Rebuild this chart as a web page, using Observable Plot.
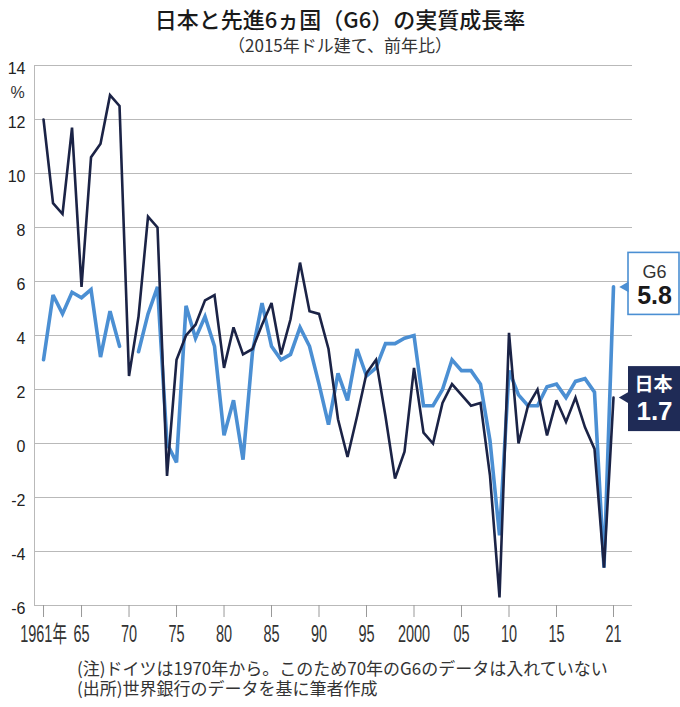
<!DOCTYPE html>
<html><head><meta charset="utf-8">
<script src="https://cdn.jsdelivr.net/npm/d3@7"></script>
<script src="https://cdn.jsdelivr.net/npm/@observablehq/plot@0.6"></script>
<style>
body{margin:0;background:#fff;}
#wrap{position:relative;width:680px;height:707px;font-family:"Noto Sans CJK JP",sans-serif;color:#222;overflow:hidden;}
.title{position:absolute;left:0;width:680px;text-align:center;top:6px;font-size:22px;line-height:24px;font-weight:500;color:#1a1a1a;}
.sub{position:absolute;left:0;width:680px;text-align:center;top:35px;font-size:17px;line-height:19px;color:#333;}
#chart{position:absolute;left:0;top:0;}
.note{position:absolute;left:77px;top:658px;font-size:17px;line-height:20px;color:#333;white-space:pre;}
</style></head>
<body><div id="wrap">
<div id="chart"></div>
<div class="title">日本と先進6ヵ国（G6）の実質成長率</div>
<div class="sub">（2015年ドル建て、前年比）</div>
<div class="note" id="note"></div>
</div>
<script>
const startYear = 1961;
const japan = [
  12.0, 8.9, 8.5, 11.7, 5.8, 10.6, 11.1, 12.9, 12.5, 2.5,   // 1961-1970
  4.7, 8.4, 8.0, -1.2, 3.1, 4.0, 4.4, 5.3, 5.5, 2.8,         // 1971-1980
  4.3, 3.3, 3.5, 4.4, 5.2, 3.3, 4.6, 6.7, 4.9, 4.8,          // 1981-1990
  3.5, 0.9, -0.5, 1.0, 2.6, 3.1, 1.0, -1.3, -0.3, 2.8,       // 1991-2000
  0.4, 0.0, 1.5, 2.2, 1.8, 1.4, 1.5, -1.2, -5.7, 4.1,        // 2001-2010
  0.0, 1.4, 2.0, 0.3, 1.6, 0.8, 1.7, 0.6, -0.2, -4.6,        // 2011-2020
  1.7                                                        // 2021
];
const g6 = [
  3.1, 5.5, 4.8, 5.6, 5.4, 5.7, 3.2, 4.9, 3.6, null,         // 1961-1970
  3.4, 4.8, 5.8, 0.0, -0.7, 5.1, 3.9, 4.7, 3.6, 0.3,         // 1971-1980
  1.6, -0.6, 3.4, 5.2, 3.6, 3.1, 3.3, 4.3, 3.6, 2.2,         // 1981-1990
  0.7, 2.6, 1.6, 3.5, 2.5, 2.8, 3.7, 3.7, 3.9, 4.0,          // 1991-2000
  1.4, 1.4, 2.0, 3.1, 2.7, 2.7, 2.2, 0.1, -3.4, 2.7,         // 2001-2010
  1.8, 1.4, 1.4, 2.1, 2.2, 1.7, 2.3, 2.4, 1.9, -4.6,         // 2011-2020
  5.8                                                        // 2021
];
const seriesNames = ["日本", "G6"];
const seriesColors = ["#1b2346", "#4b8fd3"];
const xTicks = [1961, 1965, 1970, 1975, 1980, 1985, 1990, 1995, 2000, 2005, 2010, 2015, 2021];
const xTickLabels = ["1961年", "65", "70", "75", "80", "85", "90", "95", "2000", "05", "10", "15", "21"];
const yTicks = [-6, -4, -2, 0, 2, 4, 6, 8, 10, 12, 14];
const yUnit = "%";
const notes = [
  "(注)ドイツは1970年から。このため70年のG6のデータは入れていない",
  "(出所)世界銀行のデータを基に筆者作成"
];
document.getElementById("note").textContent = notes.join("\n");

const rows = [];
japan.forEach((v, i) => rows.push({year: startYear + i, value: v, series: seriesNames[0]}));
g6.forEach((v, i) => rows.push({year: startYear + i, value: v, series: seriesNames[1]}));
const lastYear = startYear + japan.length - 1;
const lastJ = {year: lastYear, value: japan[japan.length - 1], name: seriesNames[0]};
const lastG = {year: lastYear, value: g6[g6.length - 1], name: seriesNames[1]};

const xDomain = [1960.05, 2023];
const grid = "#b9b9b9";
const font = '"Liberation Sans", Arial, "Noto Sans CJK JP", sans-serif';

const plot = Plot.plot({
  width: 680,
  height: 650,
  marginTop: 65,
  marginBottom: 45,
  marginLeft: 34,
  marginRight: 48,
  style: {fontFamily: font, background: "transparent", overflow: "visible"},
  x: {domain: xDomain, axis: null, label: null},
  y: {domain: [yTicks[0], yTicks[yTicks.length - 1]], axis: null, label: null},
  marks: [
    Plot.ruleY(yTicks, {stroke: grid, strokeWidth: 1}),
    Plot.ruleX([xDomain[0]], {y1: yTicks[0], y2: yTicks[yTicks.length - 1], stroke: grid, strokeWidth: 1}),
    Plot.axisY(yTicks, {label: null, tickSize: 0, tickPadding: 9, dy: 3, fontSize: 16, fill: "#222", tickFormat: d => String(d)}),
    Plot.axisX(xTicks, {label: null, tickSize: 12, tickPadding: 8, fontSize: 23, fill: "#333", stroke: "#999",
      tickFormat: d => xTickLabels[xTicks.indexOf(d)]}),
    Plot.text([yUnit], {x: xDomain[0], y: yTicks[yTicks.length - 1], dx: -17, dy: 27, fontSize: 16, fill: "#333", textAnchor: "middle"}),
    Plot.line(rows.filter(d => d.series === seriesNames[1]), {x: "year", y: "value", stroke: seriesColors[1], strokeWidth: 3.6, strokeLinejoin: "miter", strokeMiterlimit: 3}),
    Plot.line(rows.filter(d => d.series === seriesNames[0]), {x: "year", y: "value", stroke: seriesColors[0], strokeWidth: 2.6, strokeLinejoin: "miter", strokeMiterlimit: 3}),
    // G6 label box
    Plot.rect([lastG], {x1: "year", x2: "year", y1: "value", y2: "value", insetLeft: 15, insetRight: -66, insetTop: -34, insetBottom: -28, fill: "white", stroke: seriesColors[1], strokeWidth: 1.6}),
    Plot.dot([lastG], {x: "year", y: "value", dx: 12, symbol: "triangle", rotate: -90, r: 4, fill: seriesColors[1]}),
    Plot.text([lastG], {x: "year", y: "value", text: "name", dx: 41, dy: -15, fontSize: 18, fill: "#333", textAnchor: "middle"}),
    Plot.text([lastG], {x: "year", y: "value", text: d => d.value.toFixed(1), dx: 41, dy: 9, fontSize: 25, fontWeight: "bold", fill: "#1a1a1a", textAnchor: "middle"}),
    // Japan label box
    Plot.rect([lastJ], {x1: "year", x2: "year", y1: "value", y2: "value", insetLeft: 15, insetRight: -67, insetTop: -31, insetBottom: -34, fill: "#1f2b56"}),
    Plot.dot([lastJ], {x: "year", y: "value", dx: 12, symbol: "triangle", rotate: -90, r: 4.3, fill: "#1f2b56"}),
    Plot.text([lastJ], {x: "year", y: "value", text: "name", dx: 40, dy: -13, fontSize: 19, fontWeight: "bold", fill: "white", textAnchor: "middle", fontFamily: '"Noto Sans CJK JP", sans-serif'}),
    Plot.text([lastJ], {x: "year", y: "value", text: d => d.value.toFixed(1), dx: 41, dy: 14, fontSize: 26, fontWeight: "bold", fill: "white", textAnchor: "middle"})
  ]
});
document.getElementById("chart").appendChild(plot);
// condensed look of the x tick labels
plot.querySelectorAll('g[aria-label="x-axis tick label"] text').forEach(t => {
  const tr = t.getAttribute("transform") || "";
  t.setAttribute("transform", tr + " scale(0.63,1)");
});
</script>
</body></html>
